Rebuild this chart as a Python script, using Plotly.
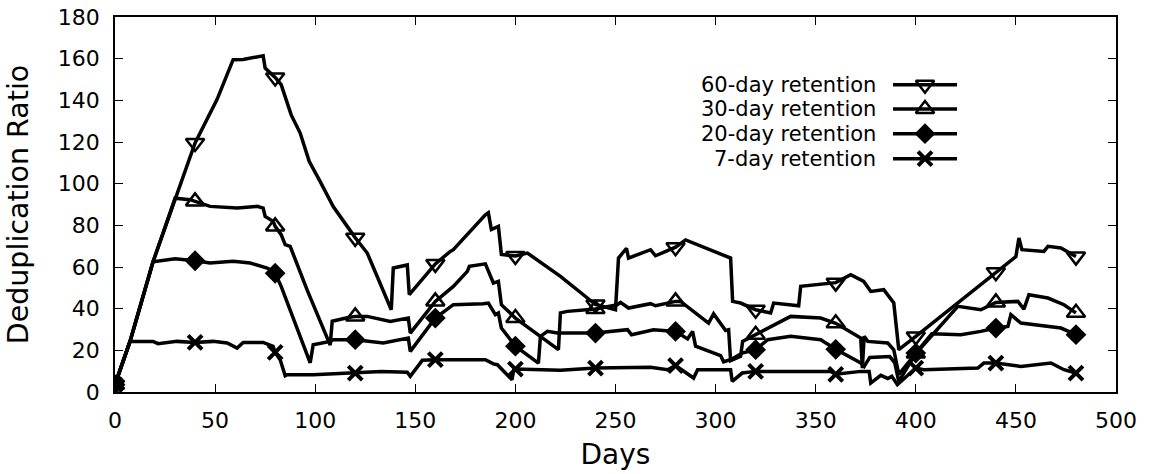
import plotly.graph_objects as go

# ---------------- data ----------------
rise_days = [0, 7.5, 19, 30, 40, 51, 59]
rise_vals = [3.5, 24.3, 62.5, 93, 119.5, 140.5, 159.5]

d60_days = rise_days + [64, 71, 74, 75, 78, 80, 83, 88, 92.5, 97, 102.5, 109, 116, 120, 126,
                        138, 139, 146, 147, 160, 167.5, 169, 185, 186.5, 188, 191.5, 193, 200,
                        206, 222.5, 240, 250, 251.5, 255.5, 256.5, 267.5, 270, 280, 285, 307.5,
                        308.5, 312.5, 320, 327.5, 329, 341.5, 342.5, 350, 360, 367.5, 374,
                        377.5, 384, 389, 391.5, 400, 440, 450, 451.5, 453, 464, 466, 472.5, 480]
d60_vals = rise_vals + [159.6, 161, 161.4, 155.5, 153, 151, 147.5, 133, 124.3, 110.7, 101, 89,
                        79.5, 74, 66.7, 39.5, 59.5, 61, 46.7, 61.5, 67.5, 68.3, 85, 86, 78,
                        79.5, 66, 65.3, 66.7, 55.5, 42, 39.5, 64.3, 69, 64.3, 68.3, 65.4, 69.5,
                        73, 64.3, 43.5, 42.7, 39.5, 37.9, 42.7, 41.4, 50.7, 51.5, 52.5, 56.3,
                        53.1, 48.3, 49.1, 42.7, 20.3, 26.7, 57.5, 65, 73.9, 68.3, 67.5, 69.9,
                        69.1, 65]

d30_days = rise_days[:4] + [37.5, 40, 47.5, 61, 71, 74, 75, 79, 80, 83, 85, 87.5, 96, 107.5,
                            108.5, 116, 120, 126, 134, 137.5, 146.5, 147.5, 160, 169, 176, 177,
                            185, 189, 191.5, 193, 200, 211.5, 221.5, 222.5, 226, 240, 251,
                            252.5, 256.5, 267.5, 270, 280, 282.5, 296.5, 299, 305, 306.5, 307.5,
                            312.5, 313.5, 320, 337.5, 352.5, 360, 372.5, 373.3, 374.2, 376, 386,
                            389, 391.5, 400, 421, 432.5, 440, 451, 454, 456.5, 466, 474, 480]
d30_vals = rise_vals[:4] + [92.3, 91.5, 89.1, 88.3, 89.1, 88.3, 84.3, 81.9, 79.5, 75.5, 70.7,
                            69.9, 48.9, 22.5, 34, 35.6, 36.3, 36.3, 34.7, 33.9, 35.5, 28.3, 43.5,
                            50.7, 57.9, 60.3, 61.5, 52.3, 53.1, 41.9, 35.5, 27.5, 20.3, 38, 38.7,
                            39.8, 41.9, 43, 40.3, 42.4, 41.4, 43.5, 43.5, 33.1, 37.5, 29.5, 29.9,
                            15, 17.1, 24.3, 27.5, 36.3, 35.5, 33, 25.9, 11.5, 26.7, 24.3, 23.5,
                            20.3, 8.5, 18.5, 41.1, 39.5, 43, 43.5, 39.8, 46.7, 45.1, 41.9, 38]

d20_days = rise_days[:3] + [30, 40, 47.5, 59, 67.5, 76, 79, 80, 83, 97.5, 99, 107.5, 109, 120,
                            134, 146.5, 147.5, 160, 169, 184, 186.5, 190, 191.5, 193, 200, 211.5,
                            212.5, 216, 221, 240, 256, 258, 269, 280, 284, 286, 288.5, 290,
                            302.5, 304, 307.5, 313.3, 320, 326, 337.5, 352.5, 360, 372.5, 374.2,
                            377, 387, 389.5, 391.5, 400, 408, 422.5, 432.5, 440, 446, 447.5,
                            452.5, 472.5, 480]
d20_vals = rise_vals[:3] + [64, 63, 61.9, 62.7, 61.9, 59.5, 58, 57, 50.7, 14, 22.7, 24.3, 25.1,
                            25.1, 23.5, 25.9, 19.5, 35.5, 41.9, 42.4, 42.7, 37.1, 37.9, 30.7, 22,
                            13.9, 26.7, 29.1, 28.3, 28.3, 29.9, 27.5, 29.9, 29.1, 27, 25.5, 29.1,
                            22, 17.5, 14.5, 15.5, 18.7, 20.3, 25.1, 26.7, 25.1, 20.5, 13.9, 12.3,
                            16.6, 17, 14, 5, 18.7, 28, 27.5, 29.1, 30.7, 31.5, 37.1, 33.1, 30.7,
                            27.5]

d7_days = rise_days[:2] + [19, 21.5, 31, 40, 49, 56, 61, 64, 74, 79, 80, 82.5, 85, 86, 99, 120,
                           133, 146, 147.5, 153.5, 160, 185, 189, 191, 198.3, 199.2, 200, 222.5,
                           240, 267.5, 276, 280, 289, 291, 307.5, 308.3, 313.3, 320, 357.5, 360,
                           372.5, 376.7, 377.5, 382.5, 386, 388, 390.8, 400, 404, 431, 434, 440,
                           452.5, 467.5, 474, 480]
d7_vals = rise_vals[:2] + [24.3, 23.2, 24.3, 23.8, 24.3, 23.5, 21.1, 23.8, 23.8, 21.9, 19, 15.5,
                           7.8, 8.3, 8.3, 9.1, 9.9, 9.5, 7.5, 15.2, 15.5, 15.5, 13.5, 13.1, 5.9,
                           10.7, 11, 10.4, 11.5, 11.9, 10.7, 12.7, 6.7, 10.7, 10.7, 5.1, 9.1, 9.9,
                           9.9, 8.5, 9.9, 9.9, 4.3, 8, 6.5, 7.5, 3.5, 11.5, 10.7, 11.5, 13.9,
                           13.9, 12.3, 13.9, 10.7, 9.1]

series_names = ["60-day retention", "30-day retention", "20-day retention", "7-day retention"]
marker_days = [0, 40, 80, 120, 160, 200, 240, 280, 320, 360, 400, 440, 480]

x_ticks = [0, 50, 100, 150, 200, 250, 300, 350, 400, 450, 500]
y_ticks = [0, 20, 40, 60, 80, 100, 120, 140, 160, 180]

# ---------------- styling ----------------
FONT = "DejaVu Sans"
styles = [
    dict(symbol="triangle-down-open", size=16, line=dict(width=2.5, color="black")),
    dict(symbol="triangle-up-open", size=16, line=dict(width=2.5, color="black")),
    dict(symbol="diamond", size=16, line=dict(width=0, color="black")),
    dict(symbol="x-thin-open", size=14, line=dict(width=4, color="black")),
]
data = [(d60_days, d60_vals), (d30_days, d30_vals), (d20_days, d20_vals), (d7_days, d7_vals)]

fig = go.Figure()
for (dd, vv), st in zip(data, styles):
    sizes = [st["size"] if d in marker_days else 0 for d in dd]
    fig.add_trace(go.Scatter(
        x=dd, y=vv, mode="lines+markers",
        line=dict(color="black", width=3.5),
        marker=dict(symbol=st["symbol"], size=sizes, color="black", opacity=1, line=st["line"]),
        showlegend=False, hoverinfo="skip"))

FW, FH = 1149, 474
L, R, T, B = 115, 1116, 17.3, 392.3
W, H = R - L, B - T

# custom legend (text left, sample right) in an overlay axis of [0, 1]
leg_rows_px = [85, 109.3, 134, 159]
sx0, sx1 = (893 - L) / W, (957 - L) / W
for name, st, py in zip(series_names, styles, leg_rows_px):
    yy = (B - py) / H
    fig.add_trace(go.Scatter(
        x=[sx0, (sx0 + sx1) / 2, sx1], y=[yy, yy, yy], xaxis="x2", yaxis="y2",
        mode="lines+markers", line=dict(color="black", width=3.5),
        marker=dict(symbol=st["symbol"], size=[0, st["size"], 0], color="black", opacity=1,
                    line=st["line"]),
        showlegend=False, hoverinfo="skip"))
    fig.add_annotation(xref="paper", yref="paper", x=(878 - L) / W, y=yy, text=name,
                       showarrow=False, xanchor="right", yanchor="middle",
                       font=dict(family=FONT, size=21, color="black"))

axis_common = dict(showline=True, linecolor="black", linewidth=1.5, mirror="ticks",
                   ticks="inside", ticklen=8, tickwidth=1, tickcolor="black",
                   showgrid=False, zeroline=False, automargin=False,
                   ticklabeloverflow="allow",
                   tickfont=dict(family=FONT, size=22, color="black"))

fig.update_layout(
    width=FW, height=FH,
    margin=dict(l=L, r=FW - R, t=T, b=FH - B),
    paper_bgcolor="white", plot_bgcolor="white",
    font=dict(family=FONT, color="black"),
    xaxis=dict(range=[0, 500], tickvals=x_ticks, ticktext=[str(v) for v in x_ticks],
               title=dict(text="Days", font=dict(family=FONT, size=28), standoff=12),
               ticklabelstandoff=8, **axis_common),
    yaxis=dict(range=[0, 180], tickvals=y_ticks, ticktext=[str(v) for v in y_ticks],
               title=dict(text="Deduplication Ratio", font=dict(family=FONT, size=28.5),
                          standoff=21),
               ticklabelstandoff=9, **axis_common),
    xaxis2=dict(range=[0, 1], overlaying="x", visible=False, fixedrange=True),
    yaxis2=dict(range=[0, 1], overlaying="y", visible=False, fixedrange=True),
)

fig.write_html("out.html", config={"displayModeBar": False},
               post_script="document.body.style.margin='0';document.body.style.overflow='hidden';")
